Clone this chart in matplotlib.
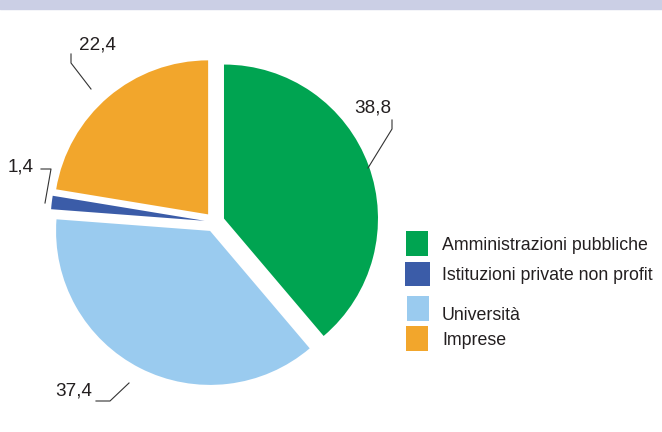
import matplotlib
matplotlib.use("Agg")
from matplotlib import pyplot as plt
from matplotlib.patches import Rectangle

plt.rcParams['font.family'] = ['Liberation Sans', 'DejaVu Sans']

# dati (ordine in senso orario dal alto)
settori = ["Amministrazioni pubbliche", "Università", "Istituzioni private non profit", "Imprese"]
valori = [38.8, 37.4, 1.4, 22.4]
etichette = ["38,8", "37,4", "1,4", "22,4"]
colori = ["#00a451", "#9acbef", "#3b5ca8", "#f2a62c"]

# ordine della legenda
legenda = ["Amministrazioni pubbliche", "Istituzioni private non profit", "Università", "Imprese"]

W, H = 662, 432
fig = plt.figure(figsize=(W / 100, H / 100), dpi=100)
ax = fig.add_axes([0, 0, 1, 1])

def py(y):
    # da coordinate immagine (y verso il basso) a coordinate assi
    return H - y

# fascia in alto
fig.patches.append(Rectangle((0, 1 - 9 / H), 1, 9 / H, transform=fig.transFigure,
                             color="#cbcfe5", zorder=0))

ax.pie(valori, colors=colori, startangle=90, counterclock=False,
       explode=[10, 10, 10, 10], radius=154, center=(214.6, py(222)),
       wedgeprops=dict(linewidth=0))

# etichette con linee di richiamo
pos_testo = {"38,8": (373, 108), "37,4": (73.5, 391.5), "1,4": (21, 167), "22,4": (97, 45)}
linee = {"38,8": [(392, 120), (392, 129), (368, 168)],
         "37,4": [(96, 401), (110, 401), (129, 383)],
         "1,4": [(41, 169), (51, 169), (45, 203)],
         "22,4": [(71, 54), (71, 63), (91, 89)]}
for et in etichette:
    x, y = pos_testo[et]
    ax.text(x, py(y), et, fontsize=13.6, ha="center", va="center", color="#231f20")
    xs = [p[0] for p in linee[et]]
    ys = [py(p[1]) for p in linee[et]]
    ax.plot(xs, ys, color="#333333", lw=0.8)

# legenda
quadrati = [(406, 231, 22, 25), (405, 262, 25, 24), (407, 296, 22, 25), (406, 326, 22, 25)]
basi = [250, 280, 320, 345]
for nome, (qx, qy, qw, qh), b in zip(legenda, quadrati, basi):
    c = colori[settori.index(nome)]
    ax.add_patch(Rectangle((qx, py(qy + qh)), qw, qh, color=c, lw=0))
    ax.text(442, py(b), nome, fontsize=12.8, ha="left", va="baseline", color="#231f20")

ax.set_xlim(0, W)
ax.set_ylim(0, H)
ax.set_aspect("auto")
ax.axis("off")

plt.savefig("out.png", dpi=100)
